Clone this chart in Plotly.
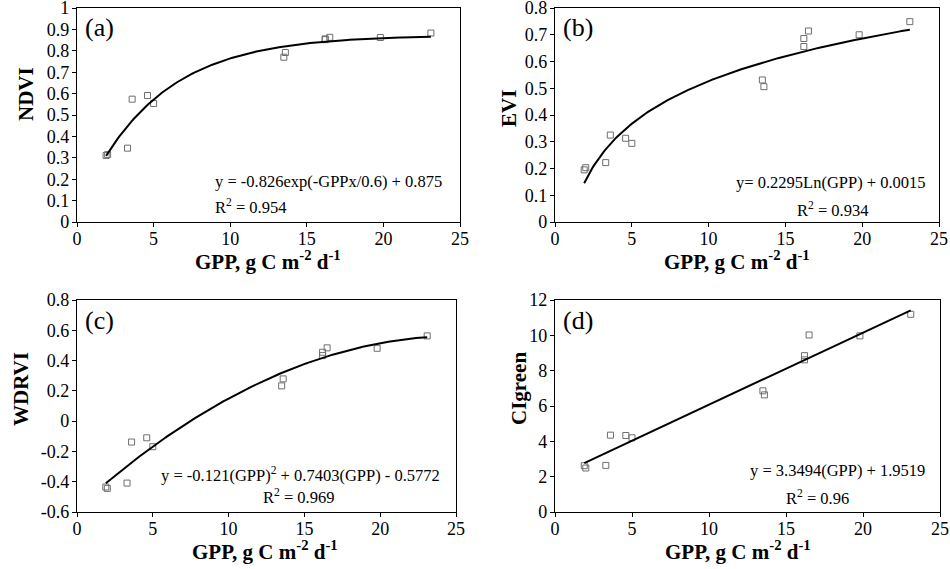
import numpy as np
import plotly.graph_objects as go

# ---- data ----
gpp = [1.9, 2.0, 3.3, 3.6, 4.6, 5.0, 13.5, 13.6, 16.2, 16.2, 16.5, 19.8, 23.1]
ndvi = [0.311, 0.315, 0.345, 0.574, 0.591, 0.554, 0.770, 0.792, 0.852, 0.856, 0.863, 0.862, 0.883]
evi = [0.195, 0.203, 0.222, 0.325, 0.313, 0.294, 0.531, 0.506, 0.656, 0.686, 0.714, 0.700, 0.749]
wdrvi = [-0.435, -0.444, -0.409, -0.138, -0.110, -0.169, 0.233, 0.279, 0.433, 0.455, 0.484, 0.481, 0.563]
cigreen = [2.62, 2.49, 2.64, 4.35, 4.33, 4.20, 6.86, 6.63, 8.61, 8.85, 10.02, 9.97, 11.19]

x_ticks = [0, 5, 10, 15, 20, 25]
x_ticklabels = ["0", "5", "10", "15", "20", "25"]
ndvi_ticks = [0, 0.1, 0.2, 0.3, 0.4, 0.5, 0.6, 0.7, 0.8, 0.9, 1.0]
ndvi_ticklabels = ["0", "0.1", "0.2", "0.3", "0.4", "0.5", "0.6", "0.7", "0.8", "0.9", "1"]
evi_ticks = [0, 0.1, 0.2, 0.3, 0.4, 0.5, 0.6, 0.7, 0.8]
evi_ticklabels = ["0", "0.1", "0.2", "0.3", "0.4", "0.5", "0.6", "0.7", "0.8"]
wdrvi_ticks = [-0.6, -0.4, -0.2, 0, 0.2, 0.4, 0.6, 0.8]
wdrvi_ticklabels = ["-0.6", "-0.4", "-0.2", "0", "0.2", "0.4", "0.6", "0.8"]
ci_ticks = [0, 2, 4, 6, 8, 10, 12]
ci_ticklabels = ["0", "2", "4", "6", "8", "10", "12"]

panel_labels = ["(a)", "(b)", "(c)", "(d)"]
y_titles = ["NDVI", "EVI", "WDRVI", "CIgreen"]
x_title = "GPP, g C m<sup>-2</sup> d<sup>-1</sup>"
eq_lines = [
    ["y = -0.826exp(-GPPx/0.6) + 0.875", "R<sup>2</sup> = 0.954"],
    ["y= 0.2295Ln(GPP) + 0.0015", "R<sup>2</sup> = 0.934"],
    ["y = -0.121(GPP)<sup>2</sup> + 0.7403(GPP) - 0.5772", "R<sup>2</sup> = 0.969"],
    ["y = 3.3494(GPP) + 1.9519", "R<sup>2</sup> = 0.96"],
]

# ---- trend lines fitted from the data ----
x = np.array(gpp)
xf = np.linspace(x.min(), x.max(), 200)

# (a) exponential rise to maximum: y = a - b*exp(-x/c)
best = None
for c in np.linspace(0.5, 30, 3000):
    A = np.column_stack([np.ones_like(x), np.exp(-x / c)])
    coef, *_ = np.linalg.lstsq(A, np.array(ndvi), rcond=None)
    sse = np.sum((A @ coef - np.array(ndvi)) ** 2)
    if best is None or sse < best[0]:
        best = (sse, c, coef)
_, c_a, coef_a = best
fit_a = coef_a[0] + coef_a[1] * np.exp(-xf / c_a)

# (b) logarithmic
pb = np.polyfit(np.log(x), evi, 1)
fit_b = np.polyval(pb, np.log(xf))

# (c) quadratic
pc = np.polyfit(x, wdrvi, 2)
fit_c = np.polyval(pc, xf)

# (d) linear
pd_ = np.polyfit(x, cigreen, 1)
fit_d = np.polyval(pd_, xf)

W, H = 950, 569
FONT = "Liberation Serif"


def fx(px):
    return px / W


def fy(py):
    return 1 - py / H


fig = go.Figure()

panels = [
    dict(xa="x", ya="y", y=ndvi, fit=fit_a, xdom=[77, 460], ydom=[8, 222],
         yr=[0, 1], yt=ndvi_ticks, ytl=ndvi_ticklabels),
    dict(xa="x2", ya="y2", y=evi, fit=fit_b, xdom=[555, 939], ydom=[8, 222],
         yr=[0, 0.8], yt=evi_ticks, ytl=evi_ticklabels),
    dict(xa="x3", ya="y3", y=wdrvi, fit=fit_c, xdom=[77, 456], ydom=[300, 512],
         yr=[-0.6, 0.8], yt=wdrvi_ticks, ytl=wdrvi_ticklabels),
    dict(xa="x4", ya="y4", y=cigreen, fit=fit_d, xdom=[555, 940], ydom=[300, 512],
         yr=[0, 12], yt=ci_ticks, ytl=ci_ticklabels),
]

axis_common = dict(
    showgrid=False, zeroline=False, showline=True, linecolor="black", linewidth=1.3,
    mirror=True, ticks="outside", ticklen=4, tickwidth=1, tickcolor="black",
    automargin=False, ticklabeloverflow="allow",
    tickfont=dict(family=FONT, size=18, color="black"),
)

layout = {}
for i, p in enumerate(panels):
    n = "" if i == 0 else str(i + 1)
    fig.add_trace(go.Scatter(
        x=gpp, y=p["y"], mode="markers", xaxis=p["xa"], yaxis=p["ya"],
        marker=dict(symbol="square-open", size=6, color="#6e6e6e", line=dict(width=1)),
        showlegend=False, hoverinfo="skip"))
    fig.add_trace(go.Scatter(
        x=xf, y=p["fit"], mode="lines", xaxis=p["xa"], yaxis=p["ya"],
        line=dict(color="black", width=2), showlegend=False, hoverinfo="skip"))
    layout["xaxis" + n] = dict(
        domain=[fx(p["xdom"][0]), fx(p["xdom"][1])], anchor=p["ya"], range=[0, 25],
        tickmode="array", tickvals=x_ticks, ticktext=x_ticklabels,
        ticklabelstandoff=-4, **axis_common)
    layout["yaxis" + n] = dict(
        domain=[fy(p["ydom"][1]), fy(p["ydom"][0])], anchor=p["xa"], range=p["yr"],
        tickmode="array", tickvals=p["yt"], ticktext=p["ytl"],
        ticklabelstandoff=-1, **axis_common)

fig.update_layout(**layout)

ann = []
bfont = dict(family=FONT, size=21, color="black")

# panel labels
label_pos = [(83, 28), (561, 28), (83, 320), (561, 320)]
for lab, (px, py) in zip(panel_labels, label_pos):
    ann.append(dict(text=lab, x=fx(px), y=fy(py), xref="paper", yref="paper",
                    xanchor="left", yanchor="middle", showarrow=False,
                    font=dict(family=FONT, size=26, color="black")))

# x titles
for (px, py) in [(268, 260), (737, 260), (265, 550), (738, 550)]:
    ann.append(dict(text="<b>" + x_title + "</b>", x=fx(px), y=fy(py), xref="paper",
                    yref="paper", xanchor="center", yanchor="middle", showarrow=False,
                    font=bfont))

# y titles
for t, (px, py) in zip(y_titles, [(26, 94), (509, 108), (21, 389), (519, 389)]):
    ann.append(dict(text="<b>" + t + "</b>", x=fx(px), y=fy(py), xref="paper",
                    yref="paper", xanchor="center", yanchor="middle", showarrow=False,
                    textangle=-90, font=bfont))

# equations
efont = dict(family=FONT, size=16.5, color="black")
eq_pos = [
    [(213, 181, "left"), (213, 206, "left")],
    [(831, 182, "center"), (832, 209, "center")],
    [(300, 474, "center"), (298, 496, "center")],
    [(837, 470, "center"), (817, 497, "center")],
]
for lines, poss in zip(eq_lines, eq_pos):
    for txt, (px, py, anc) in zip(lines, poss):
        ann.append(dict(text=txt, x=fx(px), y=fy(py), xref="paper", yref="paper",
                        xanchor=anc, yanchor="middle", showarrow=False, font=efont))

fig.update_layout(
    width=W, height=H, margin=dict(l=0, r=0, t=0, b=0, autoexpand=False),
    paper_bgcolor="white", plot_bgcolor="white", annotations=ann,
    font=dict(family=FONT, color="black"),
)

fig.write_html("out.html", config={"displayModeBar": False},
               post_script="document.body.style.margin='0px';")
